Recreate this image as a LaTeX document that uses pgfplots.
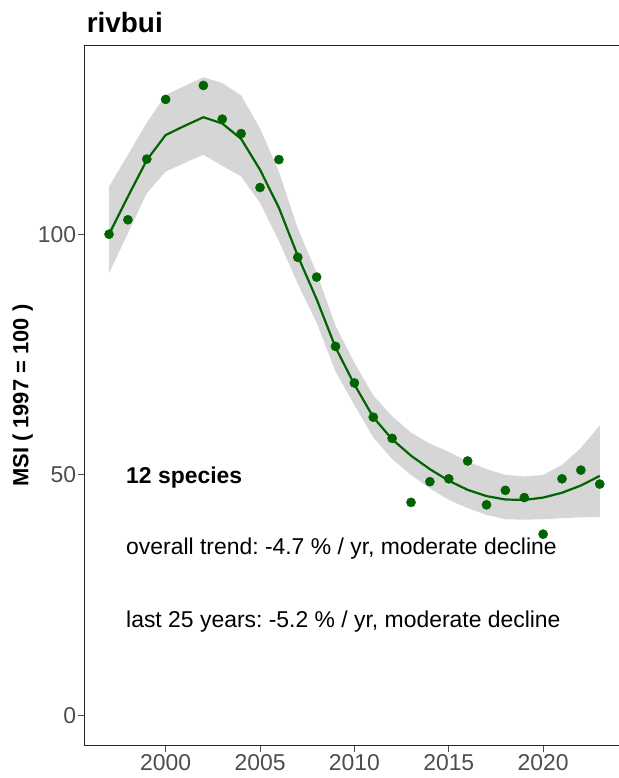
\documentclass[border=0pt]{standalone}
\usepackage{pgfplots}
\pgfplotsset{compat=1.18}
\usepackage{pgfplotstable}
\usepgfplotslibrary{fillbetween}
\usepackage{fontspec}
\setmainfont{Liberation Sans}
\frenchspacing
\definecolor{dkgreen}{RGB}{0,100,0}
\definecolor{bandgray}{RGB}{214,214,214}
\definecolor{tickgray}{RGB}{77,77,77}

\pgfplotstableread{
year trend lo hi
1997 100.0 91.9 109.9
1998 107.8 100.2 116.5
1999 115.4 108.5 123.2
2000 120.6 113.0 128.9
2001 122.5 114.8 130.8
2002 124.3 116.5 132.6
2003 123.0 114.2 131.4
2004 119.8 112.0 128.8
2005 113.4 106.5 122.0
2006 105.5 98.6 113.0
2007 95.5 89.7 101.2
2008 86.5 81.6 92.0
2009 76.5 71.5 81.0
2010 68.8 64.5 73.3
2011 62.0 57.8 66.5
2012 57.4 53.3 62.2
2013 54.0 50.0 58.8
2014 51.2 47.2 56.5
2015 48.8 44.8 54.8
2016 46.9 43.1 52.8
2017 45.6 41.7 51.2
2018 44.9 40.8 50.0
2019 44.8 40.7 49.7
2020 45.3 40.8 50.0
2021 46.3 41.0 52.1
2022 47.8 41.2 55.6
2023 49.8 41.3 60.3
}\trenddata

\pgfplotstableread{
year msi
1997 100.0
1998 103.0
1999 115.6
2000 128.0
2002 130.9
2003 123.9
2004 120.9
2005 109.7
2006 115.5
2007 95.2
2008 91.1
2009 76.7
2010 69.1
2011 62.0
2012 57.6
2013 44.3
2014 48.6
2015 49.2
2016 52.9
2017 43.8
2018 46.8
2019 45.3
2020 37.7
2021 49.2
2022 51.0
2023 48.1
}\msidata

\begin{document}
\begin{tikzpicture}
\begin{axis}[
  name=ax,
  at={(84.3bp,32bp)}, anchor=south west,
  scale only axis,
  width=534.7bp, height=700.5bp,
  xmin=1995.69, xmax=2024.02,
  ymin=-6.3, ymax=139.2,
  axis x line=bottom, axis y line=left,
  axis line style={-, black!85, line width=1bp},
  xtick={2000,2005,2010,2015,2020},
  ytick={0,50,100},
  xtick pos=left, ytick pos=left,
  tick align=outside,
  major tick length=6bp,
  tick style={tickgray, line width=1bp},
  ticklabel style={font=\fontsize{23}{23}\selectfont, text=tickgray},
  xticklabel style={inner sep=2bp},
  yticklabel style={inner sep=2bp},
  /pgf/number format/assume math mode=true,
  /pgf/number format/1000 sep={},
  ylabel={MSI ( 1997 = 100 )},
  every axis y label/.style={at={(axis description cs:-0.115,0.5)}, rotate=90, anchor=center, font=\bfseries\fontsize{22}{22}\selectfont},
  title={rivbui},
  every axis title/.style={at={(axis description cs:0,1)}, anchor=base west, yshift=12.5bp, xshift=-1bp, font=\bfseries\fontsize{28}{28}\selectfont},
  clip=true,
]
\addplot[name path=hi, draw=none, forget plot] table[x=year, y=hi] {\trenddata};
\addplot[name path=lo, draw=none, forget plot] table[x=year, y=lo] {\trenddata};
\addplot[bandgray, draw=none] fill between[of=hi and lo];
\addplot[dkgreen, line width=2.2bp, no marks] table[x=year, y=trend] {\trenddata};
\addplot[only marks, mark=*, mark size=4.6bp, dkgreen, mark options={draw=dkgreen, fill=dkgreen}] table[x=year, y=msi] {\msidata};
\node[anchor=base west, inner sep=0pt, font=\bfseries\fontsize{23}{23}\selectfont] at (axis cs:1997.9,48.3) {12 species};
\node[anchor=base west, inner sep=0pt, font=\fontsize{23}{23}\selectfont] at (axis cs:1997.9,33.4) {overall trend: -4.7 \% / yr, moderate decline};
\node[anchor=base west, inner sep=0pt, font=\fontsize{23}{23}\selectfont] at (axis cs:1997.9,18.4) {last 25 years: -5.2 \% / yr, moderate decline};
\end{axis}
\draw[black!85, line width=1bp] ([xshift=-0.5bp]ax.north west) -- ([xshift=5bp]ax.north east);
\pgfresetboundingbox
\useasboundingbox (0,0) rectangle (619bp,778bp);
\end{tikzpicture}
\end{document}
